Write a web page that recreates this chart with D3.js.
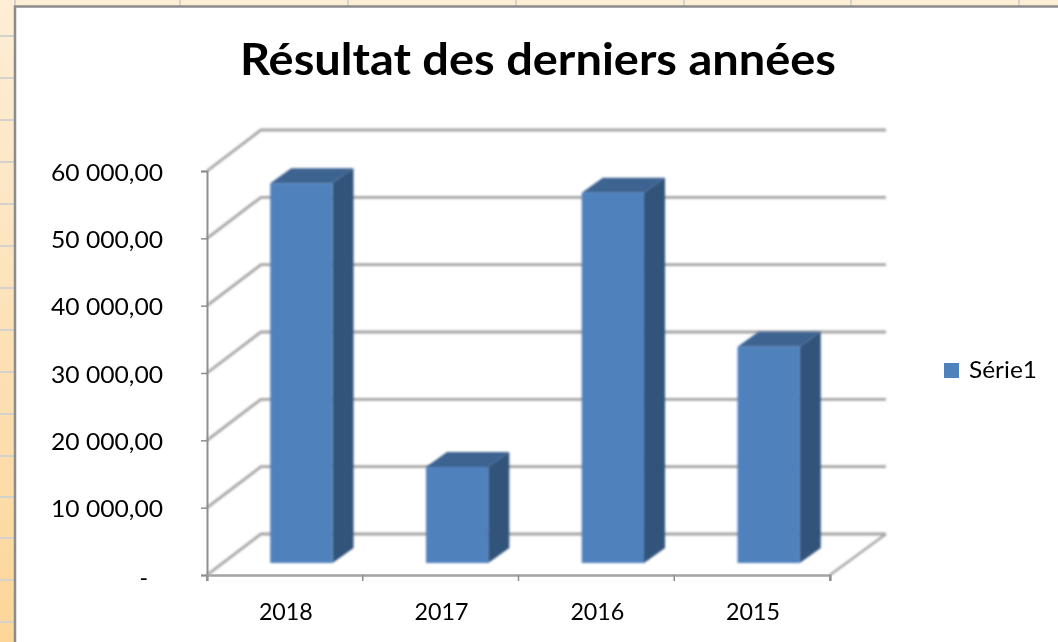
<!DOCTYPE html>
<html>
<head>
<meta charset="utf-8">
<script src="https://cdn.jsdelivr.net/npm/d3@7"></script>
<style>
  html, body { margin: 0; padding: 0; background: #fff; overflow: hidden; }
  text { font-family: Lato, "Open Sans", sans-serif; fill: #000; }
</style>
</head>
<body>
<script>
const years = ["2018", "2017", "2016", "2015"]
const results = [56400, 14250, 55000, 32100]
const valueTicks = [0, 10000, 20000, 30000, 40000, 50000, 60000]
const seriesName = "Série1"
const chartTitle = "Résultat des derniers années"
const sheetCols = [15, 180, 348, 516, 684, 851, 1019]
const sheetRows = [36, 78, 120, 162, 204, 246, 288, 330, 372, 414, 456, 497, 538, 580, 622]

const W = 1058, H = 642
const svg = d3.select("body").append("svg").attr("width", W).attr("height", H)

// spreadsheet behind the chart
const defs = svg.append("defs")
const grad = defs.append("linearGradient").attr("id", "sheet").attr("x1", 0).attr("y1", 0).attr("x2", 0).attr("y2", 1)
grad.append("stop").attr("offset", 0).attr("stop-color", "#fdeed6")
grad.append("stop").attr("offset", 1).attr("stop-color", "#fcd699")
const soft = defs.append("filter").attr("id", "soft")
soft.append("feGaussianBlur").attr("stdDeviation", 0.8)
const softText = defs.append("filter").attr("id", "softText")
softText.append("feGaussianBlur").attr("stdDeviation", 0.35)

svg.append("rect").attr("width", W).attr("height", H).attr("fill", "url(#sheet)")
svg.selectAll(".col").data(sheetCols).join("line")
    .attr("x1", d => d).attr("x2", d => d).attr("y1", 0).attr("y2", 6)
    .attr("stroke", "#d4d2cc").attr("stroke-width", 2)
svg.selectAll(".row").data(sheetRows).join("line")
    .attr("x1", 0).attr("x2", 14).attr("y1", d => d).attr("y2", d => d)
    .attr("stroke", "#d4d2cc").attr("stroke-width", 2)

// chart area
svg.append("rect").attr("x", 15).attr("y", 6.5).attr("width", W).attr("height", H)
    .attr("fill", "#fff").attr("stroke", "#8c8c8c").attr("stroke-width", 2.5)

// lato runs narrower than the original font, so the text gets stretched
const stretch = (sel, len) => sel.attr("textLength", len).attr("lengthAdjust", "spacingAndGlyphs")

svg.append("text").attr("class", "title")
    .attr("x", 538).attr("y", 75).attr("text-anchor", "middle")
    .attr("filter", "url(#softText)")
    .style("font-size", "44px").style("font-weight", 700)
    .text(chartTitle)
    .call(stretch, 596)

// scales, front plane of the 3d box
const x = d3.scaleBand().domain(years).range([207, 830]).paddingInner(0.6).paddingOuter(0.3)
const y = d3.scaleLinear().domain([0, 60000]).range([575, 171])

// depth of the box, of the bar and where the bar sits in it
const depth = { dx: 56, dy: -41 }
const barDepth = { dx: 21, dy: -15 }
const barShift = { dx: 16.5, dy: -12 }

const walls = svg.append("g").attr("filter", "url(#soft)")
const gridPath = d => {
    const p = d3.path()
    p.moveTo(207, y(d))
    p.lineTo(207 + 54, y(d) + depth.dy)
    p.lineTo(830 + depth.dx, y(d) + depth.dy)
    return p.toString()
}
walls.selectAll("path.grid").data(valueTicks).join("path")
    .attr("class", "grid")
    .attr("d", gridPath)
    .attr("fill", "none").attr("stroke", "#a4a4a4").attr("stroke-width", 2.8)

// right edge of the floor
walls.append("line")
    .attr("x1", 830).attr("y1", y(0))
    .attr("x2", 830 + depth.dx).attr("y2", y(0) + depth.dy)
    .attr("stroke", "#a4a4a4").attr("stroke-width", 2.2)

const bars = svg.append("g").attr("filter", "url(#soft)")
    .selectAll("g").data(years.map((year, i) => ({ year, value: results[i] }))).join("g")

const barLeft = d => x(d.year) + barShift.dx
const barRight = d => barLeft(d) + x.bandwidth()
const barTop = d => y(d.value) + barShift.dy
const barBottom = barShift.dy + y(0)

bars.append("path").attr("fill", "#31527a").attr("d", d => {
    const p = d3.path()
    p.moveTo(barRight(d), barTop(d))
    p.lineTo(barRight(d) + barDepth.dx, barTop(d) + barDepth.dy)
    p.lineTo(barRight(d) + barDepth.dx, barBottom + barDepth.dy)
    p.lineTo(barRight(d), barBottom)
    p.closePath()
    return p.toString()
})
bars.append("path").attr("fill", "#3c6391").attr("d", d => {
    const p = d3.path()
    p.moveTo(barLeft(d), barTop(d))
    p.lineTo(barLeft(d) + barDepth.dx, barTop(d) + barDepth.dy)
    p.lineTo(barRight(d) + barDepth.dx, barTop(d) + barDepth.dy)
    p.lineTo(barRight(d), barTop(d))
    p.closePath()
    return p.toString()
})
bars.append("rect").attr("fill", "#4f81bd")
    .attr("x", barLeft)
    .attr("y", barTop)
    .attr("width", x.bandwidth())
    .attr("height", d => barBottom - barTop(d))

// axes
const frFormat = d3.formatLocale({ decimal: ",", thousands: " ", grouping: [3], currency: ["", ""] }).format(",.2f")
const yAxis = d3.axisLeft(y).tickValues(valueTicks).tickSize(6).tickPadding(38)
    .tickFormat(d => d === 0 ? "-" : frFormat(d))
const gy = svg.append("g").attr("transform", "translate(207,0)").call(yAxis)
gy.select(".domain").attr("stroke", "#8e8e8e").attr("stroke-width", 2)
gy.selectAll(".tick line").attr("stroke", "#8e8e8e").attr("stroke-width", 1.5)
gy.selectAll("text").style("font-size", "23px").attr("dy", "0.4em").attr("filter", "url(#softText)")
gy.selectAll(".tick").filter(d => d !== 0).select("text").call(stretch, 112)
gy.selectAll(".tick").filter(d => d === 0).select("text").attr("dx", -15).attr("dy", "0.45em")

const xAxis = d3.axisBottom(x).tickSizeOuter(0).tickSize(6).tickPadding(23)
const gx = svg.append("g").attr("transform", "translate(0,575)").call(xAxis)
gx.select(".domain").attr("stroke", "#a4a4a4").attr("stroke-width", 2.6)
gx.selectAll(".tick line").remove()
gx.selectAll(".boundary").data([0, 1, 2, 3, 4]).join("line")
    .attr("class", "boundary")
    .attr("x1", i => 207 + i * x.step()).attr("x2", i => 207 + i * x.step())
    .attr("y1", 0).attr("y2", 6)
    .attr("stroke", "#8e8e8e").attr("stroke-width", 1.5)
gx.selectAll("text").style("font-size", "23px").attr("dx", 1).attr("filter", "url(#softText)").call(stretch, 54)

// legend
const legend = svg.append("g").attr("transform", "translate(944,363)")
legend.append("rect").attr("width", 15).attr("height", 15).attr("fill", "#4f81bd")
legend.append("text").attr("x", 25).attr("y", 15).attr("filter", "url(#softText)")
    .style("font-size", "23px").text(seriesName).call(stretch, 68)
</script>
</body>
</html>
